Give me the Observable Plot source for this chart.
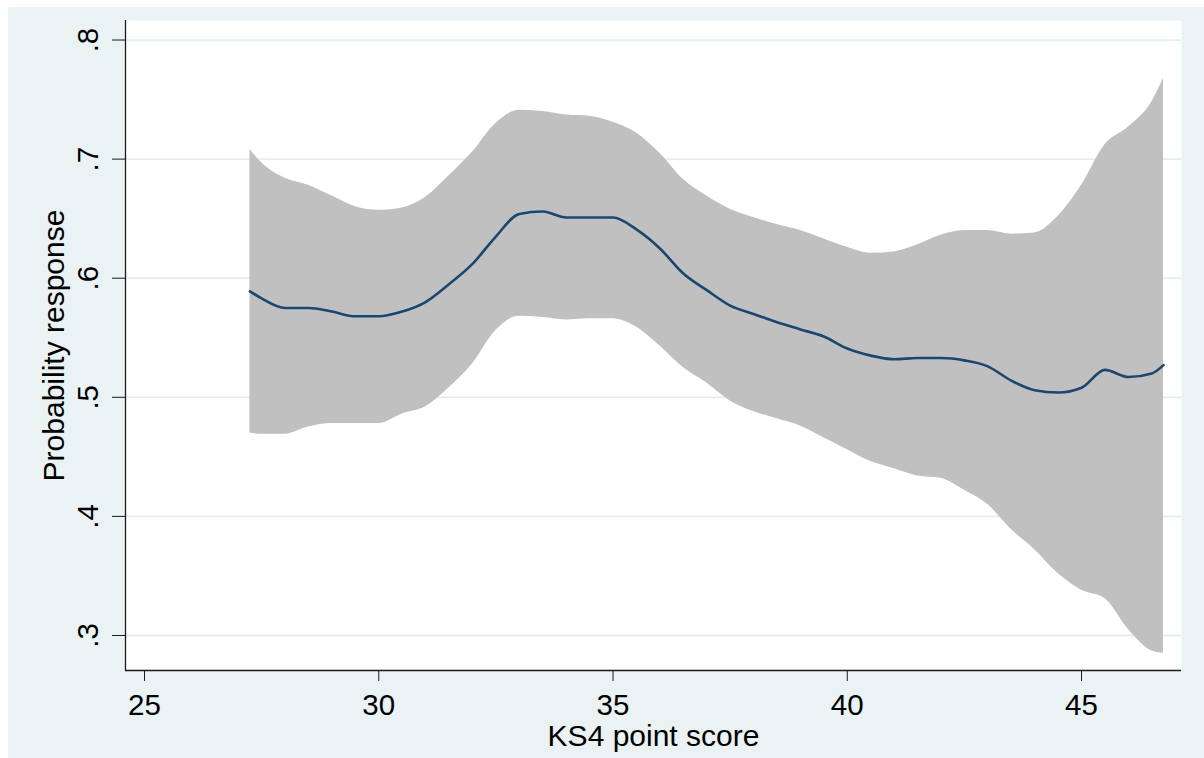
<!DOCTYPE html>
<html>
<head>
<meta charset="utf-8">
<script src="https://cdn.jsdelivr.net/npm/d3@7"></script>
<script src="https://cdn.jsdelivr.net/npm/@observablehq/plot@0.6"></script>
<style>
  html, body { margin: 0; padding: 0; background: #ffffff; }
  #chart { position: absolute; left: 8px; top: 7px; }
  #chart svg { display: block; }
</style>
</head>
<body>
<div id="chart"></div>
<script>
// KS4 point score grid
const ks4 = [27.25, 27.5, 28, 28.5, 29, 29.5, 30, 30.5, 31, 31.5, 32, 32.5, 33, 33.5, 34, 34.5, 35, 35.5, 36, 36.5, 37, 37.5, 38, 38.5, 39, 39.5, 40, 40.5, 41, 41.5, 42, 42.5, 43, 43.5, 44, 44.5, 45, 45.5, 46, 46.5, 46.75];
// Smoothed probability of response
const prob = [0.589, 0.583, 0.575, 0.575, 0.572, 0.568, 0.568, 0.572, 0.580, 0.595, 0.612, 0.635, 0.654, 0.656, 0.651, 0.651, 0.651, 0.641, 0.625, 0.604, 0.590, 0.577, 0.570, 0.563, 0.557, 0.551, 0.541, 0.535, 0.532, 0.533, 0.533, 0.531, 0.526, 0.514, 0.506, 0.504, 0.508, 0.523, 0.517, 0.520, 0.527];
// Upper and lower confidence limits
const upper = [0.708, 0.697, 0.684, 0.678, 0.669, 0.660, 0.657, 0.659, 0.668, 0.686, 0.706, 0.730, 0.741, 0.740, 0.737, 0.736, 0.731, 0.722, 0.705, 0.683, 0.669, 0.658, 0.651, 0.645, 0.640, 0.633, 0.626, 0.621, 0.622, 0.628, 0.636, 0.640, 0.640, 0.637, 0.638, 0.652, 0.678, 0.712, 0.727, 0.748, 0.768];
const lower = [0.470, 0.469, 0.469, 0.475, 0.478, 0.478, 0.478, 0.486, 0.492, 0.508, 0.528, 0.556, 0.568, 0.567, 0.565, 0.566, 0.566, 0.559, 0.543, 0.525, 0.512, 0.497, 0.488, 0.482, 0.476, 0.466, 0.456, 0.446, 0.440, 0.434, 0.432, 0.422, 0.410, 0.389, 0.372, 0.352, 0.338, 0.331, 0.305, 0.287, 0.285];

const xTicks = [25, 30, 35, 40, 45];
const yTicks = [0.3, 0.4, 0.5, 0.6, 0.7, 0.8];
const xTitle = "KS4 point score";
const yTitle = "Probability response";

const xDomain = [24.594, 47.134];
const yDomain = [0.2706, 0.8164];

const data = ks4.map((x, i) => ({x, p: prob[i], lo: lower[i], hi: upper[i]}));
const fmtY = d => d.toFixed(1).replace(/^0/, "");

const chart = Plot.plot({
  width: 1196,
  height: 751,
  marginLeft: 117,
  marginTop: 13,
  marginRight: 23,
  marginBottom: 88,
  style: {
    background: "#eaf2f3",
    fontFamily: "'Liberation Sans', Arial, sans-serif",
    fontSize: "29.5px",
    color: "#000"
  },
  x: { domain: xDomain },
  y: { domain: yDomain },
  marks: [
    Plot.frame({fill: "#ffffff"}),
    Plot.gridY(yTicks, {stroke: "#e3eef0", strokeOpacity: 1, strokeWidth: 1.8}),
    Plot.areaY(data, {x: "x", y1: "lo", y2: "hi", fill: "#c0c0c0", curve: "monotone-x"}),
    Plot.lineY(data, {x: "x", y: "p", stroke: "#1a476f", strokeWidth: 2.6, curve: "monotone-x"}),
    Plot.ruleX([xDomain[0]], {stroke: "#1a1a1a", strokeWidth: 1.3}),
    Plot.ruleY([yDomain[0]], {stroke: "#1a1a1a", strokeWidth: 1.3}),
    Plot.axisX({ticks: xTicks, tickSize: 11, tickPadding: 13, tickFormat: d => String(d), label: null, stroke: "#1a1a1a", fill: "#000"}),
    Plot.axisY({ticks: yTicks, tickSize: 13, tickPadding: 15, tickRotate: -90, tickFormat: fmtY, label: null, stroke: "#1a1a1a", fill: "#000"}),
    Plot.text([xTitle], {text: d => d, frameAnchor: "bottom", dy: 75, lineAnchor: "bottom", fontSize: 30, fill: "#000"}),
    Plot.text([yTitle], {text: d => d, frameAnchor: "left", dx: -62, rotate: -90, lineAnchor: "bottom", textAnchor: "middle", fontSize: 30, fill: "#000"})
  ]
});
document.getElementById("chart").appendChild(chart);
</script>
</body>
</html>
